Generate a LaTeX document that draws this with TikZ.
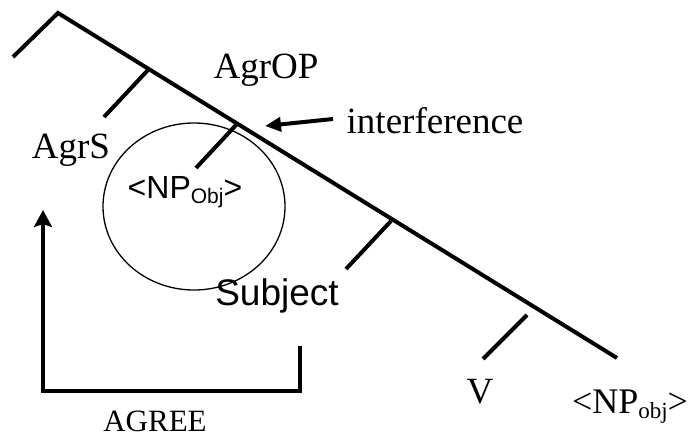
\documentclass[tikz,border=0pt]{standalone}
\usepackage{fontspec}
\setmainfont{Liberation Serif}
\setsansfont{Liberation Sans}
\usetikzlibrary{arrows.meta}

\begin{document}
\begin{tikzpicture}[x=1pt, y=-1pt,
    branch/.style={line width=4pt},
    lbl/.style={font=\fontsize{37}{40}\selectfont, anchor=base, inner sep=0pt},
    sanslbl/.style={font=\sffamily\fontsize{37}{40}\selectfont, anchor=base, inner sep=0pt},
    pointer/.style={line width=4pt, -{Triangle[length=16pt,width=14pt]}}]
    \useasboundingbox (0,0) rectangle (690,439);

    % tree
    \coordinate (top) at (58,13);
    \coordinate (leftend) at (13,57);
    \coordinate (mainend) at (617,358);
    \coordinate (b1) at (148,70);   \coordinate (b1end) at (104,117);
    \coordinate (b2) at (237,124);  \coordinate (b2end) at (196,168);
    \coordinate (b3) at (391,221);  \coordinate (b3end) at (346,269);
    \coordinate (b4) at (527,315);  \coordinate (b4end) at (483,359);
    \draw[branch, line join=miter] (leftend) -- (top) -- (mainend);
    \draw[branch] (b1) -- (b1end);
    \draw[branch] (b2) -- (b2end);
    \draw[branch] (b3) -- (b3end);
    \draw[branch] (b4) -- (b4end);

    % labels
    \node[lbl] (agrop) at (266,78) {AgrOP};
    \node[lbl] (agrs) at (71,158) {AgrS};
    \node[lbl] (interf) at (435,133) {interference};
    \node[sanslbl, font=\sffamily\fontsize{32}{34}\selectfont] (npobj) at (185,198)
        {<NP\raisebox{-5pt}{\fontsize{21}{22}\selectfont Obj}>};
    \node[sanslbl] (subj) at (277,305) {Subject};
    \node[lbl] (verb) at (480,403) {V};
    \node[lbl, font=\fontsize{36}{40}\selectfont] (npobjlow) at (630,413)
        {<NP\raisebox{-5pt}{\fontsize{23}{24}\selectfont obj}>};
    \node[lbl, font=\fontsize{31}{34}\selectfont] (agree) at (155,431) {AGREE};

    % circle round the moved object
    \draw[line width=1.3pt] (194,206.5) ellipse (91pt and 83.5pt);

    % arrows
    \coordinate (tail) at (333,119);
    \coordinate (hit) at (265,126);
    \draw[pointer] (tail) -- (hit);
    \coordinate (subjfoot) at (300,346);
    \coordinate (agrstip) at (43,210);
    \draw[line width=4pt, line join=miter, -{Stealth[length=17pt,width=18pt,inset=3pt]}]
        (subjfoot) -- ++(0,45) -| (agrstip);
\end{tikzpicture}
\end{document}
